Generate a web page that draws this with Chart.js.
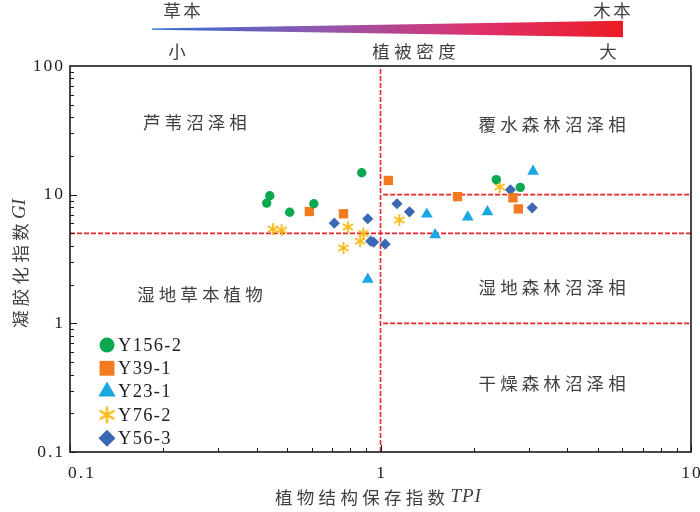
<!DOCTYPE html>
<html>
<head>
<meta charset="utf-8">
<script src="https://cdn.jsdelivr.net/npm/chart.js@4.4.1/dist/chart.umd.min.js"></script>
<style>
  html, body { margin: 0; padding: 0; background: #fff; }
</style>
</head>
<body>
<canvas id="chart" width="700" height="512"></canvas>
<script>
// series names (legend order)
const seriesNames = ['Y156-2', 'Y39-1', 'Y23-1', 'Y76-2', 'Y56-3'];

// TPI (x) / GI (y)
const y156TPI = [0.44, 0.43, 0.51, 0.61, 0.87, 2.36, 2.82];
const y156GI  = [9.8, 8.6, 7.3, 8.5, 14.8, 13.1, 11.4];

const y39TPI = [0.59, 0.76, 1.06, 1.77, 2.67, 2.78];
const y39GI  = [7.4, 7.1, 12.9, 9.65, 9.45, 7.75];

const y23TPI = [0.91, 1.41, 1.50, 1.91, 2.21, 3.10];
const y23GI  = [2.2, 7.05, 4.88, 6.7, 7.35, 15.2];

const y76TPI = [0.45, 0.48, 0.76, 0.785, 0.86, 0.88, 1.15, 2.42];
const y76GI  = [5.4, 5.3, 3.85, 5.6, 4.35, 5.0, 6.35, 11.5];

const y56TPI = [0.71, 0.91, 0.93, 0.95, 1.035, 1.13, 1.24, 2.62, 3.08];
const y56GI  = [6.0, 6.5, 4.35, 4.27, 4.12, 8.5, 7.35, 10.9, 7.9];

// axis ticks
const xTickLabels = ['0.1', '1', '10'];
const yTickLabels = ['0.1', '1', '10', '100'];

// facies boundaries and labels
const tpiSplit = 1;
const giSplit = 5;
const giUpperRight = 10;
const giLowerRight = 1;
const faciesNames = ['芦苇沼泽相', '覆水森林沼泽相', '湿地草本植物', '湿地森林沼泽相', '干燥森林沼泽相'];
const faciesTPI = [0.2525, 3.57, 0.262, 3.57, 3.57];
const faciesGI  = [36.7, 35.4, 1.69, 1.91, 0.34];

const toPoints = (xs, ys) => xs.map((x, i) => ({ x: x, y: ys[i] }));

// six-armed asterisk marker
function makeAsterisk(size, color, lw) {
  const c = document.createElement('canvas');
  c.width = size; c.height = size;
  const g = c.getContext('2d');
  const r = size / 2 - 1;
  g.strokeStyle = color;
  g.lineWidth = lw;
  g.translate(size / 2, size / 2);
  for (let k = 0; k < 3; k++) {
    const a = Math.PI / 2 + k * Math.PI / 3;
    g.beginPath();
    g.moveTo(Math.cos(a) * r, Math.sin(a) * r);
    g.lineTo(-Math.cos(a) * r, -Math.sin(a) * r);
    g.stroke();
  }
  return c;
}

const yellow = '#f8b912';
const starSmall = makeAsterisk(14, yellow, 1.8);
const starBig = makeAsterisk(19, yellow, 2.4);

const datasets = [
  { label: seriesNames[0], data: toPoints(y156TPI, y156GI), pointStyle: 'circle', pointRadius: 4.7, backgroundColor: '#0aa84f', borderColor: '#0aa84f', legendStyle: 'circle', legendRadius: 7.5 },
  { label: seriesNames[1], data: toPoints(y39TPI, y39GI), pointStyle: 'rect', pointRadius: 6.6, backgroundColor: '#f47a20', borderColor: '#f47a20', legendStyle: 'rect', legendRadius: 10.5 },
  { label: seriesNames[2], data: toPoints(y23TPI, y23GI), pointStyle: 'triangle', pointRadius: 6.8, backgroundColor: '#1ba8e2', borderColor: '#1ba8e2', legendStyle: 'triangle', legendRadius: 10 },
  { label: seriesNames[3], data: toPoints(y76TPI, y76GI), pointStyle: starSmall, pointRadius: 6, backgroundColor: yellow, borderColor: yellow, legendStyle: starBig, legendRadius: 9 },
  { label: seriesNames[4], data: toPoints(y56TPI, y56GI), pointStyle: 'rectRot', pointRadius: 5.6, backgroundColor: '#3b68b5', borderColor: '#3b68b5', legendStyle: 'rectRot', legendRadius: 8.5 }
];
datasets.forEach(d => { d.borderWidth = 0; d.pointHoverRadius = d.pointRadius; });

const cjk = '"Noto Sans CJK SC", sans-serif';
const serif = '"Liberation Serif", "DejaVu Serif", serif';
const textGrey = '#404040';

function spacedText(ctx, text, cx, cy, step) {
  const start = cx - step * (text.length - 1) / 2;
  for (let i = 0; i < text.length; i++) ctx.fillText(text[i], start + i * step, cy);
}

const faciesPlugin = {
  id: 'facies',
  beforeDatasetsDraw(chart) {
    const { ctx, scales: { x, y } } = chart;
    ctx.save();
    ctx.strokeStyle = '#e8262a';
    ctx.lineWidth = 1.6;
    ctx.setLineDash([5, 2]);
    const line = (x1, y1, x2, y2) => {
      ctx.beginPath();
      ctx.moveTo(x.getPixelForValue(x1), y.getPixelForValue(y1));
      ctx.lineTo(x.getPixelForValue(x2), y.getPixelForValue(y2));
      ctx.stroke();
    };
    line(tpiSplit, 0.1, tpiSplit, 100);
    line(0.1, giSplit, 10, giSplit);
    line(1.02, giUpperRight, 10, giUpperRight);
    line(1.02, giLowerRight, 10, giLowerRight);
    ctx.setLineDash([]);

    ctx.fillStyle = textGrey;
    ctx.font = '17.5px ' + cjk;
    ctx.textAlign = 'center';
    ctx.textBaseline = 'middle';
    faciesNames.forEach((n, i) => {
      spacedText(ctx, n, x.getPixelForValue(faciesTPI[i]), y.getPixelForValue(faciesGI[i]), 21.6);
    });
    ctx.restore();
  },
  afterDraw(chart) {
    const { ctx, chartArea: a, scales: { x, y } } = chart;
    ctx.save();
    // frame
    ctx.strokeStyle = '#1a1a1a';
    ctx.lineWidth = 1.6;
    ctx.strokeRect(a.left, a.top, a.right - a.left, a.bottom - a.top);

    // inward log ticks
    ctx.lineWidth = 1;
    [0.1, 1, 10].forEach(d => {
      for (let k = 1; k <= 9; k++) {
        const v = d * k;
        const len = k === 1 ? 7 : 4;
        if (v <= 10) {
          const px = Math.round(x.getPixelForValue(v)) + 0.5;
          ctx.beginPath(); ctx.moveTo(px, a.bottom); ctx.lineTo(px, a.bottom - len); ctx.stroke();
        }
        if (v <= 100) {
          const py = Math.round(y.getPixelForValue(v)) + 0.5;
          ctx.beginPath(); ctx.moveTo(a.left, py); ctx.lineTo(a.left + len, py); ctx.stroke();
        }
      }
    });

    // tick labels
    ctx.fillStyle = '#222';
    ctx.font = '17.5px ' + serif;
    ctx.letterSpacing = '2px';
    ctx.textBaseline = 'middle';
    xTickLabels.forEach((t, i) => {
      ctx.textAlign = i === 0 ? 'left' : 'center';
      const px = x.getPixelForValue(Number(t));
      ctx.fillText(t, i === 0 ? px - 2 : px + 1, a.bottom + 21);
    });
    ctx.textAlign = 'right';
    yTickLabels.forEach(t => ctx.fillText(t, a.left - 5, y.getPixelForValue(Number(t))));
    ctx.letterSpacing = '0px';

    // axis titles
    ctx.fillStyle = textGrey;
    ctx.textAlign = 'left';
    ctx.textBaseline = 'middle';
    ctx.font = '17.5px ' + cjk;
    let cx = 275;
    for (const ch of '植物结构保存指数') { ctx.fillText(ch, cx, 497); cx += 21.8; }
    ctx.font = 'italic 19px ' + serif;
    ctx.letterSpacing = '1px';
    ctx.fillText('TPI', cx + 1, 497);
    ctx.letterSpacing = '0px';

    ctx.save();
    ctx.translate(20, 328);
    ctx.rotate(-Math.PI / 2);
    ctx.font = '17.5px ' + cjk;
    let cy = 0;
    for (const ch of '凝胶化指数') { ctx.fillText(ch, cy, 0); cy += 21.8; }
    ctx.font = 'italic 19px ' + serif;
    ctx.fillText('GI', cy, 0);
    ctx.restore();

    // legend
    ctx.font = '18.5px ' + serif;
    ctx.letterSpacing = '1.3px';
    ctx.textAlign = 'left';
    chart.data.datasets.forEach((d, i) => {
      const ly = 345 + i * 23.3;
      ctx.fillStyle = d.backgroundColor;
      Chart.helpers.drawPoint(ctx, {
        pointStyle: d.legendStyle, radius: d.legendRadius, rotation: 0, borderWidth: 0
      }, 107, ly);
      ctx.fillStyle = '#222';
      ctx.fillText(d.label, 118, ly + 1);
    });
    ctx.letterSpacing = '0px';

    // vegetation density wedge
    const gx1 = 152, gx2 = 623;
    const grad = ctx.createLinearGradient(gx1, 0, gx2, 0);
    grad.addColorStop(0, '#2f6fd0');
    grad.addColorStop(0.35, '#8f58b0');
    grad.addColorStop(0.7, '#e0306a');
    grad.addColorStop(1, '#ec1c24');
    ctx.fillStyle = grad;
    ctx.beginPath();
    ctx.moveTo(gx1, 28.4);
    ctx.lineTo(gx2, 20.7);
    ctx.lineTo(gx2, 37.3);
    ctx.lineTo(gx1, 29.8);
    ctx.closePath();
    ctx.fill();

    ctx.fillStyle = textGrey;
    ctx.font = '17.5px ' + cjk;
    ctx.textAlign = 'center';
    spacedText(ctx, '草本', 182, 10, 20);
    spacedText(ctx, '木本', 612, 10, 20);
    ctx.fillText('小', 177, 51);
    spacedText(ctx, '植被密度', 414, 51, 22);
    ctx.fillText('大', 608, 51);
    ctx.restore();
  }
};

new Chart(document.getElementById('chart'), {
  type: 'scatter',
  data: { datasets: datasets },
  options: {
    responsive: false,
    animation: false,
    devicePixelRatio: 1,
    layout: { padding: { left: 70, top: 66, right: 9, bottom: 60 } },
    plugins: { legend: { display: false }, tooltip: { enabled: false } },
    scales: {
      x: { type: 'logarithmic', min: 0.1, max: 10, display: false },
      y: { type: 'logarithmic', min: 0.1, max: 100, display: false }
    }
  },
  plugins: [faciesPlugin]
});
</script>
</body>
</html>
